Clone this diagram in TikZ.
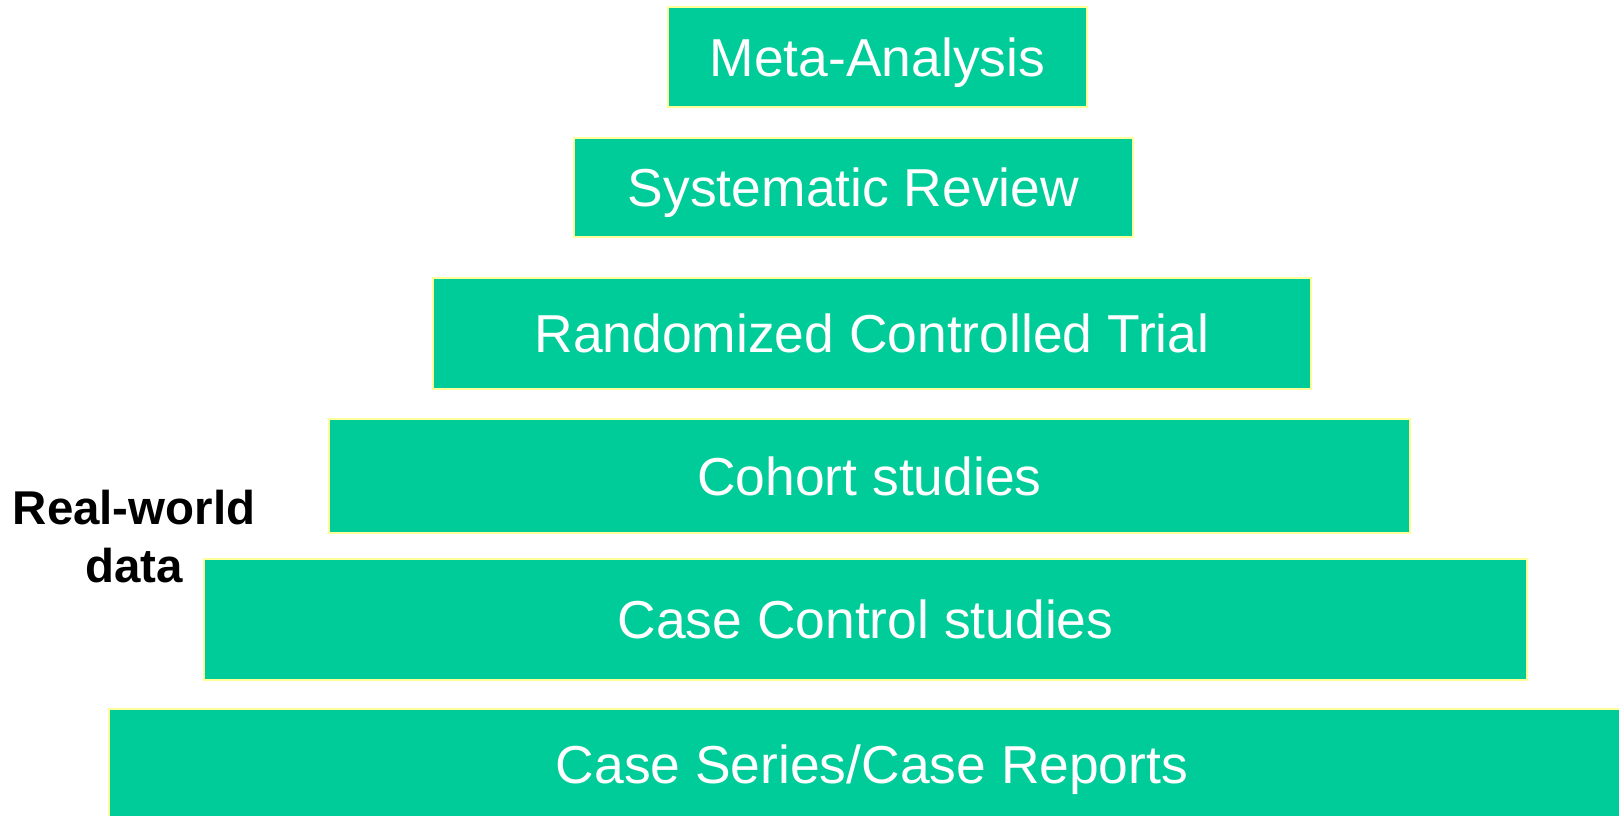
\documentclass[tikz,border=0pt]{standalone}
\usepackage{fontspec}
\setmainfont{Liberation Sans}
\usepackage{tikz}
\usetikzlibrary{shapes,calc}
\definecolor{levelgreen}{RGB}{0,204,153}
\definecolor{paleyellow}{RGB}{255,255,153}
\tikzstyle{level} = [draw=paleyellow, line width=0.85pt, fill=levelgreen, rectangle, text=white, text centered, inner sep=0pt, font=\fontsize{30.4}{36}\selectfont]
\tikzstyle{lowtext} = [text depth=0pt]
\tikzstyle{tag} = [align=center, inner sep=0pt, font=\fontsize{27}{33}\selectfont\bfseries]

\begin{document}
\begin{tikzpicture}[x=0.02cm, y=-0.02cm]
        \useasboundingbox (0,0) rectangle (1619,815);
        \node[level, lowtext, minimum width=8.38cm, minimum height=2.0cm] (meta) at (877.5,57) {Meta-Analysis};
        \node[level, lowtext, minimum width=11.18cm, minimum height=1.98cm] (review) at (853.5,187.5) {Systematic Review};
        \node[level, minimum width=17.56cm, minimum height=2.22cm] (rct) at (872,333.5) {Randomized Controlled Trial};
        \node[level, minimum width=21.62cm, minimum height=2.28cm] (cohort) at (869.5,476) {Cohort studies};
        \node[level, minimum width=26.46cm, minimum height=2.42cm] (casecontrol) at (865.5,619.5) {Case Control studies};
        \node[level, lowtext, minimum width=30.52cm, minimum height=2.2cm] (caseseries) at (872,764) {Case Series/Case Reports};
        \node[tag] (rwd) at (134,537) {Real-world\\data};
    \end{tikzpicture}
\end{document}
